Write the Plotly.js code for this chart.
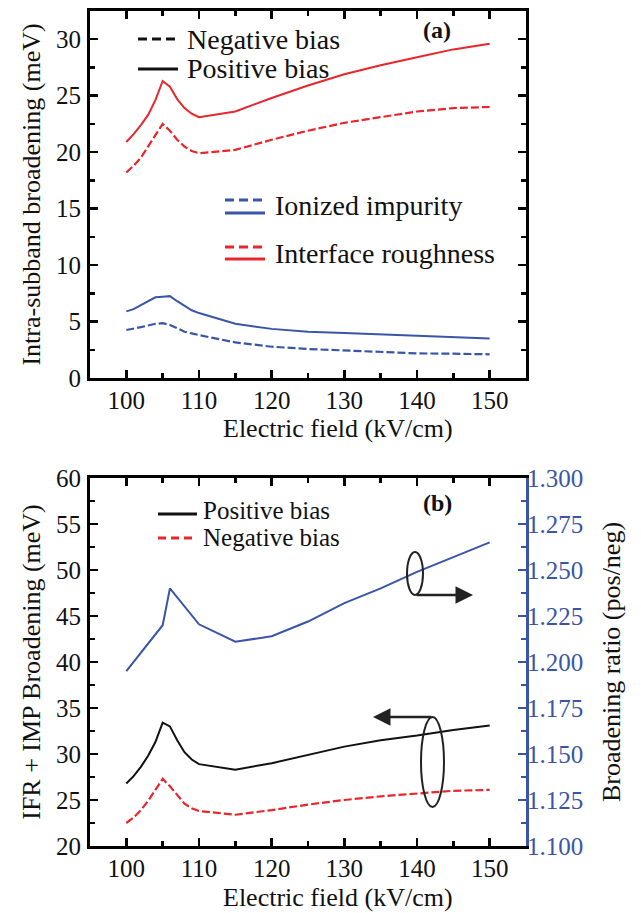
<!DOCTYPE html>
<html>
<head>
<meta charset="utf-8">
<script src="https://cdn.plot.ly/plotly-3.0.1.min.js"></script>
<style>html,body{margin:0;padding:0;background:#fff;}#chart{width:641px;height:913px;}</style>
</head>
<body>
<div id="chart"></div>
<script>
// ---------- data ----------
const field = [100, 101, 102, 103, 104, 105, 106, 107, 108, 109, 110, 115, 120, 125, 130, 135, 140, 145, 150];

// panel (a): intra-subband broadening (meV)
const ifrPositive = [20.9, 21.6, 22.4, 23.3, 24.6, 26.3, 25.8, 24.7, 23.9, 23.4, 23.1, 23.6, 24.8, 25.9, 26.9, 27.7, 28.4, 29.1, 29.6];
const ifrNegative = [18.2, 18.8, 19.5, 20.5, 21.5, 22.5, 21.9, 21.1, 20.5, 20.1, 19.9, 20.2, 21.1, 21.9, 22.6, 23.1, 23.6, 23.9, 24.0];
const impPositive = [5.9, 6.1, 6.45, 6.8, 7.15, 7.2, 7.25, 6.8, 6.4, 6.0, 5.75, 4.8, 4.35, 4.1, 3.98, 3.85, 3.7, 3.6, 3.5];
const impNegative = [4.25, 4.35, 4.5, 4.65, 4.8, 4.85, 4.7, 4.4, 4.1, 3.95, 3.8, 3.15, 2.77, 2.57, 2.45, 2.33, 2.18, 2.15, 2.1];

// panel (b): IFR + IMP broadening (meV) and ratio
const totalPositive = [26.8, 27.6, 28.6, 29.8, 31.3, 33.4, 33.0, 31.5, 30.2, 29.4, 28.9, 28.3, 29.0, 29.9, 30.8, 31.5, 32.0, 32.6, 33.1];
const totalNegative = [22.5, 23.1, 23.9, 24.9, 26.1, 27.3, 26.5, 25.5, 24.6, 24.1, 23.8, 23.4, 23.9, 24.5, 25.0, 25.4, 25.7, 26.0, 26.1];
const ratioField = [100, 105, 106, 110, 115, 120, 125, 130, 135, 140, 145, 150];
const ratio = [1.195, 1.220, 1.240, 1.2205, 1.211, 1.214, 1.222, 1.232, 1.240, 1.249, 1.257, 1.265];

const xTickVals = [100, 110, 120, 130, 140, 150];
const xTitle = 'Electric field (kV/cm)';
const legendA1 = ['Negative bias', 'Positive bias'];
const legendA2 = ['Ionized impurity', 'Interface roughness'];
const legendB = ['Positive bias', 'Negative bias'];

// ---------- styles ----------
const RED = '#e8262b', BLUE = '#3a55a8', BLACK = '#111111';
const FONT = '"Liberation Serif", "Times New Roman", Times, serif';
const DASH = '8px,3px';

// pixel -> paper helpers (layout only)
const W = 641, H = 913, ML = 90, MR = 115, MT = 11, MB = 67;
const PW = W - ML - MR, PH = H - MT - MB;
const px = X => (X - ML) / PW;
const py = Y => (H - MB - Y) / PH;

const traces = [
  {x: field, y: ifrPositive, xaxis: 'x', yaxis: 'y', mode: 'lines', line: {color: RED, width: 2}},
  {x: field, y: ifrNegative, xaxis: 'x', yaxis: 'y', mode: 'lines', line: {color: RED, width: 2.2, dash: DASH}},
  {x: field, y: impPositive, xaxis: 'x', yaxis: 'y', mode: 'lines', line: {color: BLUE, width: 2}},
  {x: field, y: impNegative, xaxis: 'x', yaxis: 'y', mode: 'lines', line: {color: BLUE, width: 2.2, dash: DASH}},
  {x: field, y: totalPositive, xaxis: 'x2', yaxis: 'y2', mode: 'lines', line: {color: BLACK, width: 2}},
  {x: field, y: totalNegative, xaxis: 'x2', yaxis: 'y2', mode: 'lines', line: {color: RED, width: 2.2, dash: DASH}},
  {x: ratioField, y: ratio, xaxis: 'x2', yaxis: 'y3', mode: 'lines', line: {color: BLUE, width: 2}}
];

const tickFont = {family: FONT, size: 25, color: '#111'};
const titleFont = {family: FONT, size: 26, color: '#111'};
const legFont = {family: FONT, size: 28, color: '#111'};
const legFontB = {family: FONT, size: 25, color: '#111'};

function xAxis(anchor) {
  return {
    anchor: anchor, domain: [0, 1], range: [95, 155], tickvals: xTickVals,
    ticks: 'inside', ticklen: 8, tickwidth: 2.5, tickcolor: '#000',
    minor: {tickvals: [105, 115, 125, 135, 145], ticks: 'inside', ticklen: 5, tickwidth: 2.5, tickcolor: '#000'},
    showline: true, linewidth: 3, linecolor: '#000', mirror: 'ticks',
    showgrid: false, zeroline: false, tickfont: tickFont, ticklabelstandoff: -2
  };
}

const layout = {
  width: W, height: H, margin: {l: ML, r: MR, t: MT, b: MB},
  paper_bgcolor: '#fff', plot_bgcolor: '#fff', showlegend: false,
  font: {family: FONT, color: '#111'},
  xaxis: xAxis('y'),
  yaxis: {
    domain: [py(378), 1], range: [0, 32.5], dtick: 5, tick0: 0,
    ticks: 'inside', ticklen: 8, tickwidth: 2.5, tickcolor: '#000',
    minor: {dtick: 2.5, ticks: 'inside', ticklen: 5, tickwidth: 2.5, tickcolor: '#000'},
    showline: true, linewidth: 3, linecolor: '#000', mirror: 'ticks',
    showgrid: false, zeroline: false, tickfont: tickFont, ticklabelstandoff: 1,
    title: {text: 'Intra-subband broadening (meV)', font: titleFont, standoff: 8}
  },
  xaxis2: xAxis('y2'),
  yaxis2: {
    anchor: 'x2', domain: [0, py(478)], range: [20, 60], dtick: 5, tick0: 20,
    ticks: 'inside', ticklen: 8, tickwidth: 2.5, tickcolor: '#000',
    minor: {dtick: 2.5, ticks: 'inside', ticklen: 5, tickwidth: 2.5, tickcolor: '#000'},
    showline: true, linewidth: 3, linecolor: '#000', mirror: false,
    showgrid: false, zeroline: false, tickfont: tickFont, ticklabelstandoff: 1,
    title: {text: 'IFR + IMP Broadening (meV)', font: titleFont, standoff: 8}
  },
  yaxis3: {
    anchor: 'x2', overlaying: 'y2', side: 'right', range: [1.1, 1.3], dtick: 0.025, tick0: 1.1,
    tickformat: '.3f',
    ticks: 'inside', ticklen: 8, tickwidth: 2.5, tickcolor: BLUE,
    minor: {dtick: 0.0125, ticks: 'inside', ticklen: 5, tickwidth: 2.5, tickcolor: BLUE},
    showline: true, linewidth: 3, linecolor: BLUE,
    showgrid: false, zeroline: false, tickfont: {family: FONT, size: 25, color: BLUE}, ticklabelstandoff: -7,
    title: {text: 'Broadening ratio (pos/neg)', font: titleFont, standoff: 20}
  },
  shapes: [
    {type: 'line', xref: 'paper', yref: 'paper', x0: px(138), x1: px(178), y0: py(39), y1: py(39), line: {color: BLACK, width: 3, dash: '9px,5px'}},
    {type: 'line', xref: 'paper', yref: 'paper', x0: px(138), x1: px(178), y0: py(69), y1: py(69), line: {color: BLACK, width: 3}},
    {type: 'line', xref: 'paper', yref: 'paper', x0: px(225), x1: px(265), y0: py(200), y1: py(200), line: {color: BLUE, width: 3, dash: '9px,5px'}},
    {type: 'line', xref: 'paper', yref: 'paper', x0: px(225), x1: px(265), y0: py(213), y1: py(213), line: {color: BLUE, width: 3}},
    {type: 'line', xref: 'paper', yref: 'paper', x0: px(225), x1: px(265), y0: py(247), y1: py(247), line: {color: RED, width: 3, dash: '9px,5px'}},
    {type: 'line', xref: 'paper', yref: 'paper', x0: px(225), x1: px(265), y0: py(259), y1: py(259), line: {color: RED, width: 3}},
    {type: 'line', xref: 'paper', yref: 'paper', x0: px(158), x1: px(197), y0: py(514), y1: py(514), line: {color: BLACK, width: 3}},
    {type: 'line', xref: 'paper', yref: 'paper', x0: px(158), x1: px(197), y0: py(538), y1: py(538), line: {color: RED, width: 3, dash: '8px,5px'}},
    {type: 'circle', xref: 'paper', yref: 'paper', x0: px(407), x1: px(423), y0: py(552), y1: py(595), line: {color: '#222', width: 2}},
    {type: 'circle', xref: 'paper', yref: 'paper', x0: px(421), x1: px(444), y0: py(717), y1: py(807), line: {color: '#222', width: 2}}
  ],
  annotations: [
    {xref: 'paper', yref: 'paper', x: px(338), y: py(428), xanchor: 'center', yanchor: 'middle', text: xTitle, showarrow: false, font: titleFont},
    {xref: 'paper', yref: 'paper', x: px(338), y: py(897), xanchor: 'center', yanchor: 'middle', text: xTitle, showarrow: false, font: titleFont},
    {xref: 'paper', yref: 'paper', x: px(185), y: py(39), xanchor: 'left', yanchor: 'middle', text: legendA1[0], showarrow: false, font: legFont},
    {xref: 'paper', yref: 'paper', x: px(185), y: py(68), xanchor: 'left', yanchor: 'middle', text: legendA1[1], showarrow: false, font: legFont},
    {xref: 'paper', yref: 'paper', x: px(273), y: py(205), xanchor: 'left', yanchor: 'middle', text: legendA2[0], showarrow: false, font: legFont},
    {xref: 'paper', yref: 'paper', x: px(273), y: py(253), xanchor: 'left', yanchor: 'middle', text: legendA2[1], showarrow: false, font: legFont},
    {xref: 'paper', yref: 'paper', x: px(437), y: py(30), xanchor: 'center', yanchor: 'middle', text: '<b>(a)</b>', showarrow: false, font: {family: FONT, size: 24, color: '#111'}},
    {xref: 'paper', yref: 'paper', x: px(201), y: py(510), xanchor: 'left', yanchor: 'middle', text: legendB[0], showarrow: false, font: legFontB},
    {xref: 'paper', yref: 'paper', x: px(201), y: py(537), xanchor: 'left', yanchor: 'middle', text: legendB[1], showarrow: false, font: legFontB},
    {xref: 'paper', yref: 'paper', x: px(437), y: py(503), xanchor: 'center', yanchor: 'middle', text: '<b>(b)</b>', showarrow: false, font: {family: FONT, size: 24, color: '#111'}},
    {xref: 'paper', yref: 'paper', x: px(473), y: py(595), ax: -58, ay: 0, text: '', showarrow: true, arrowhead: 2, arrowsize: 1.4, arrowwidth: 2.5, arrowcolor: '#222'},
    {xref: 'paper', yref: 'paper', x: px(373), y: py(717), ax: 60, ay: 0, text: '', showarrow: true, arrowhead: 2, arrowsize: 1.4, arrowwidth: 2.5, arrowcolor: '#222'}
  ]
};

Plotly.newPlot('chart', traces, layout, {displayModeBar: false, staticPlot: true});
</script>
</body>
</html>
